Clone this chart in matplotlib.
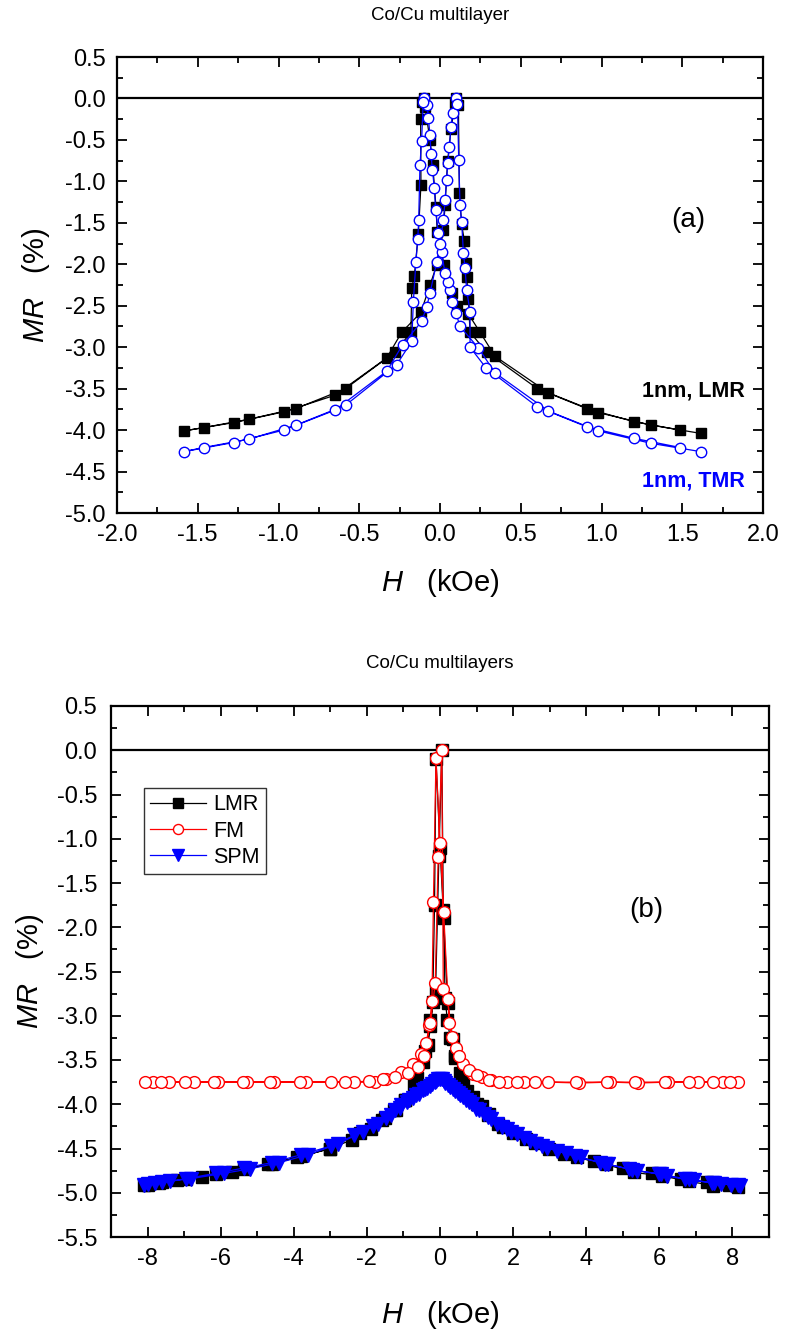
import numpy as np
import matplotlib.pyplot as plt
from matplotlib.ticker import MultipleLocator, FormatStrFormatter

plt.rcParams['font.family'] = ['Liberation Sans', 'DejaVu Sans']
plt.rcParams['mathtext.fontset'] = 'custom'
plt.rcParams['mathtext.rm'] = 'Liberation Sans'
plt.rcParams['mathtext.it'] = 'Liberation Sans:italic'
plt.rcParams['axes.unicode_minus'] = False

# ---- (a) 1nm Co/Cu, field swept down then back up ----
lmr_dn_H = [1.615, 1.307, 0.981, 0.671, 0.341, 0.248, 0.176, 0.103, 0.072, 0.025, -0.017, -0.025,
            -0.045, -0.062, -0.093, -0.100, -0.110, -0.120, -0.118, -0.134, -0.159, -0.175, -0.180,
            -0.279, -0.585, -0.892, -1.185, -1.464]
lmr_dn_MR = [-4.04, -3.94, -3.79, -3.55, -3.11, -2.82, -2.60, -2.50, -2.35, -2.01, -1.61, -1.31,
             -0.80, -0.50, -0.10, 0.00, -0.04, -0.25, -1.04, -1.63, -2.14, -2.29, -2.82,
             -3.06, -3.50, -3.74, -3.87, -3.97]
lmr_up_H = [-1.586, -1.278, -0.967, -0.651, -0.330, -0.237, -0.118, -0.062, -0.020, 0.021, 0.031,
            0.047, 0.068, 0.093, 0.099, 0.114, 0.120, 0.134, 0.151, 0.161, 0.165, 0.176, 0.186,
            0.289, 0.603, 0.908, 1.204, 1.487]
lmr_up_MR = [-4.01, -3.91, -3.78, -3.58, -3.13, -2.82, -2.58, -2.25, -2.01, -1.59, -1.29,
             -0.76, -0.37, -0.06, 0.00, -0.08, -1.14, -1.52, -1.72, -1.98, -2.15, -2.42, -2.82,
             -3.06, -3.50, -3.74, -3.90, -4.00]

tmr_dn_H = [1.615, 1.307, 0.981, 0.671, 0.341, 0.238, 0.124, 0.099, 0.072, 0.062, 0.052, 0.031,
            0.010, -0.010, -0.027, -0.035, -0.047, -0.056, -0.062, -0.072, -0.079, -0.097, -0.104,
            -0.114, -0.124, -0.132, -0.138, -0.149, -0.165, -0.175, -0.268, -0.585, -0.892,
            -1.185, -1.464]
tmr_dn_MR = [-4.26, -4.16, -4.01, -3.77, -3.31, -3.01, -2.75, -2.59, -2.45, -2.31, -2.21, -2.11,
             -1.85, -1.62, -1.35, -1.08, -0.86, -0.67, -0.44, -0.24, -0.08, 0.00, -0.04,
             -0.51, -0.80, -1.47, -1.70, -1.97, -2.45, -2.93, -3.21, -3.70, -3.94,
             -4.11, -4.21]
tmr_up_H = [-1.586, -1.278, -0.967, -0.651, -0.330, -0.231, -0.114, -0.082, -0.062, -0.020, 0.000,
            0.021, 0.031, 0.041, 0.048, 0.058, 0.068, 0.078, 0.099, 0.108, 0.116, 0.124, 0.134,
            0.145, 0.155, 0.165, 0.186, 0.186, 0.285, 0.603, 0.908, 1.204, 1.487]
tmr_up_MR = [-4.26, -4.15, -4.00, -3.76, -3.29, -2.97, -2.69, -2.51, -2.35, -1.97, -1.75,
             -1.47, -1.23, -0.98, -0.78, -0.59, -0.34, -0.17, 0.00, -0.07, -0.74, -1.28, -1.49,
             -1.86, -2.05, -2.31, -2.57, -3.00, -3.25, -3.72, -3.96, -4.10, -4.21]

# ---- (b) wide field range: total, ferromagnetic and superparamagnetic parts ----
lmr_b_dn_H = [8.16, 7.48, 6.80, 6.07, 5.30, 4.53, 3.75, 2.98, 2.35, 1.71, 1.35, 1.16, 0.89, 0.62,
              0.42, 0.35, 0.21, 0.10, 0.00, -0.11, -0.15, -0.20, -0.26, -0.33, -0.47, -0.70,
              -0.95, -1.20, -1.50, -1.90, -2.40, -3.00, -3.80, -4.60, -5.36, -6.13, -6.95,
              -7.60, -8.00]
lmr_b_dn_MR = [-4.93, -4.92, -4.87, -4.81, -4.77, -4.68, -4.60, -4.51, -4.39, -4.26, -4.11, -4.02,
               -3.92, -3.75, -3.48, -3.26, -2.86, -1.90, -1.10, -0.10, -1.75, -2.85, -3.12,
               -3.33, -3.52, -3.77, -3.95, -4.06, -4.16, -4.28, -4.40, -4.50, -4.59, -4.67,
               -4.73, -4.79, -4.85, -4.88, -4.91]
lmr_b_up_H = [-8.10, -7.70, -7.20, -6.50, -5.70, -4.70, -3.90, -3.00, -2.20, -1.60, -1.25, -0.95,
              -0.62, -0.40, -0.26, -0.12, -0.03, 0.05, 0.09, 0.14, 0.20, 0.28, 0.40, 0.55,
              0.75, 1.00, 1.30, 1.60, 2.00, 2.60, 3.40, 4.20, 5.00, 5.80, 6.60, 7.30, 7.90]
lmr_b_up_MR = [-4.91, -4.89, -4.86, -4.82, -4.77, -4.68, -4.60, -4.50, -4.32, -4.18, -4.07, -3.95,
               -3.70, -3.40, -3.05, -2.70, -1.20, 0.00, -1.80, -2.80, -3.05, -3.25, -3.45, -3.65,
               -3.85, -4.00, -4.12, -4.22, -4.32, -4.44, -4.56, -4.64, -4.72, -4.78, -4.84,
               -4.88, -4.91]

fm_dn_H = [8.15, 7.73, 7.05, 6.25, 5.42, 4.66, 3.80, 2.96, 2.30, 1.82, 1.39, 1.15, 0.89, 0.62,
           0.44, 0.25, 0.10, 0.00, -0.11, -0.18, -0.22, -0.29, -0.38, -0.52, -0.73, -1.06,
           -1.47, -1.79, -2.34, -2.97, -3.67, -4.55, -5.27, -6.06, -6.73, -7.40, -7.85]
fm_dn_MR = [-3.75, -3.75, -3.75, -3.75, -3.76, -3.75, -3.76, -3.75, -3.75, -3.75, -3.73, -3.69,
            -3.66, -3.54, -3.37, -3.08, -1.83, -1.05, -0.09, -1.71, -2.83, -3.11, -3.31, -3.43,
            -3.54, -3.64, -3.72, -3.75, -3.75, -3.75, -3.75, -3.75, -3.75, -3.75, -3.75,
            -3.75, -3.75]
fm_up_H = [-8.06, -7.63, -6.97, -6.18, -5.40, -4.65, -3.84, -2.60, -1.95, -1.55, -1.22, -0.88,
           -0.60, -0.44, -0.26, -0.13, -0.05, 0.05, 0.09, 0.21, 0.32, 0.51, 0.78, 1.00, 1.35,
           1.62, 2.10, 2.60, 3.71, 4.57, 5.33, 6.16, 6.80, 7.48, 7.94]
fm_up_MR = [-3.75, -3.75, -3.75, -3.75, -3.75, -3.75, -3.75, -3.75, -3.74, -3.72, -3.69, -3.65,
            -3.58, -3.45, -3.08, -2.63, -1.21, 0.00, -2.70, -2.81, -3.24, -3.45, -3.61, -3.67,
            -3.73, -3.75, -3.75, -3.75, -3.75, -3.75, -3.75, -3.75, -3.75, -3.75, -3.75]

spm_dn_H = [8.15, 7.70, 7.44, 6.95, 6.71, 6.20, 5.98, 5.40, 5.16, 4.60, 4.39, 3.70, 3.44, 2.94,
            2.62, 2.30, 1.95, 1.69, 1.39, 1.20, 0.98, 0.80, 0.62, 0.48, 0.35, 0.22, 0.10, 0.00,
            -0.10, -0.22, -0.35, -0.47, -0.65, -0.84, -1.06, -1.22, -1.47, -1.84, -2.34, -2.97,
            -3.80, -4.60, -5.36, -6.13, -6.95, -7.38, -7.80, -8.00]
spm_dn_MR = [-4.91, -4.90, -4.89, -4.86, -4.85, -4.81, -4.79, -4.75, -4.73, -4.68, -4.66, -4.59,
             -4.55, -4.49, -4.45, -4.38, -4.31, -4.26, -4.17, -4.11, -4.05, -3.98, -3.92, -3.87,
             -3.83, -3.78, -3.74, -3.71, -3.74, -3.77, -3.82, -3.84, -3.90, -3.95, -4.01, -4.06,
             -4.15, -4.25, -4.35, -4.47, -4.57, -4.66, -4.72, -4.78, -4.84, -4.87, -4.89, -4.90]
spm_up_H = [-8.10, -7.60, -6.80, -5.90, -5.20, -4.40, -3.60, -2.80, -2.10, -1.70, -1.35, -1.10,
            -0.90, -0.75, -0.58, -0.42, -0.28, -0.15, -0.05, 0.05, 0.15, 0.28, 0.42, 0.55, 0.72,
            0.88, 1.08, 1.30, 1.55, 1.82, 2.10, 2.45, 2.78, 3.20, 3.85, 4.50, 5.25, 6.05, 6.80,
            7.50, 7.95, 8.20]
spm_up_MR = [-4.91, -4.88, -4.84, -4.78, -4.73, -4.66, -4.57, -4.45, -4.31, -4.22, -4.12, -4.04,
             -3.98, -3.93, -3.88, -3.83, -3.79, -3.75, -3.72, -3.72, -3.76, -3.80, -3.85, -3.90,
             -3.95, -4.00, -4.07, -4.14, -4.22, -4.28, -4.34, -4.41, -4.47, -4.53, -4.60, -4.67,
             -4.74, -4.79, -4.85, -4.89, -4.91, -4.92]

fig = plt.figure(figsize=(7.85, 13.33), dpi=100)
ax1 = fig.add_axes([117/785, 1 - 513/1333, 646/785, 456/1333])
ax2 = fig.add_axes([111/785, 1 - 1237/1333, 658/785, 531/1333])

blue = '#0000ff'
red = '#ff0000'

# panel (a)
ax1.axhline(0, color='k', lw=1.6, zorder=1)
ax1.plot(lmr_dn_H + lmr_up_H, lmr_dn_MR + lmr_up_MR, '-s', color='k', lw=0.9,
         ms=7, zorder=2)
ax1.plot(tmr_dn_H + tmr_up_H, tmr_dn_MR + tmr_up_MR, '-o', color=blue, lw=0.9,
         ms=7.5, mfc='white', mec=blue, mew=1.0, zorder=3)
ax1.set_xlim(-2, 2)
ax1.set_ylim(-5, 0.5)
ax1.xaxis.set_major_locator(MultipleLocator(0.5))
ax1.xaxis.set_minor_locator(MultipleLocator(0.25))
ax1.yaxis.set_major_locator(MultipleLocator(0.5))
ax1.yaxis.set_minor_locator(MultipleLocator(0.25))
ax1.xaxis.set_major_formatter(FormatStrFormatter('%.1f'))
ax1.yaxis.set_major_formatter(FormatStrFormatter('%.1f'))
ax1.text(1.54, -1.47, '(a)', fontsize=20, ha='center', va='center')
ax1.text(1.89, -3.53, '1nm, LMR', fontsize=15.5, fontweight='bold', ha='right', va='center')
ax1.text(1.89, -4.62, '1nm, TMR', fontsize=15.5, fontweight='bold', color=blue,
         ha='right', va='center')

# panel (b)
ax2.axhline(0, color='k', lw=1.6, zorder=1)
ax2.plot(lmr_b_dn_H + lmr_b_up_H, lmr_b_dn_MR + lmr_b_up_MR, '-s', color='k', lw=0.9,
         ms=8, zorder=2, label='LMR')
ax2.plot(fm_dn_H + fm_up_H, fm_dn_MR + fm_up_MR, '-o', color=red, lw=0.9,
         ms=8.5, mfc='white', mec=red, mew=1.0, zorder=4, label='FM')
ax2.plot(spm_dn_H + spm_up_H, spm_dn_MR + spm_up_MR, '-v', color=blue, lw=0.9,
         ms=10, zorder=3, label='SPM')
ax2.set_xlim(-9, 9)
ax2.set_ylim(-5.5, 0.5)
ax2.xaxis.set_major_locator(MultipleLocator(2))
ax2.xaxis.set_minor_locator(MultipleLocator(1))
ax2.yaxis.set_major_locator(MultipleLocator(0.5))
ax2.yaxis.set_minor_locator(MultipleLocator(0.25))
ax2.xaxis.set_major_formatter(FormatStrFormatter('%d'))
ax2.yaxis.set_major_formatter(FormatStrFormatter('%.1f'))
ax2.text(5.65, -1.8, '(b)', fontsize=20, ha='center', va='center')
leg = ax2.legend(loc='upper left', bbox_to_anchor=(0.05, 0.846), fontsize=15.5,
                 handlelength=2.6, handletextpad=0.3, borderpad=0.3,
                 labelspacing=0.25, fancybox=False, framealpha=1, borderaxespad=0,
                 markerscale=0.85)
leg.get_frame().set_edgecolor('#333333')
leg.get_frame().set_linewidth(1.0)

for ax in (ax1, ax2):
    for sp in ax.spines.values():
        sp.set_linewidth(1.6)
    ax.tick_params(which='both', direction='in', top=True, right=True, labelsize=17,
                   width=1.3, pad=8)
    ax.tick_params(which='major', length=7)
    ax.tick_params(which='minor', length=4)
    ax.set_xlabel(r'$\mathit{H}$   (kOe)', fontsize=21)
    ax.set_ylabel(r'$\mathit{MR}$   (%)', fontsize=21)
    ax.xaxis.label.set_va('center')
    ax.yaxis.label.set_va('center')

ax2.tick_params(axis='y', which='both', pad=10)

ax1.xaxis.set_label_coords(0.5, -0.1535)
ax2.xaxis.set_label_coords(0.5, -0.147)
ax1.yaxis.set_label_coords(-0.125, 0.5)
ax2.yaxis.set_label_coords(-0.123, 0.5)

fig.text(440/785, 1 - 15/1333, 'Co/Cu multilayer', fontsize=13.5, ha='center', va='center')
fig.text(440/785, 1 - 663/1333, 'Co/Cu multilayers', fontsize=13.5, ha='center', va='center')

fig.savefig('out.png', dpi=100)
